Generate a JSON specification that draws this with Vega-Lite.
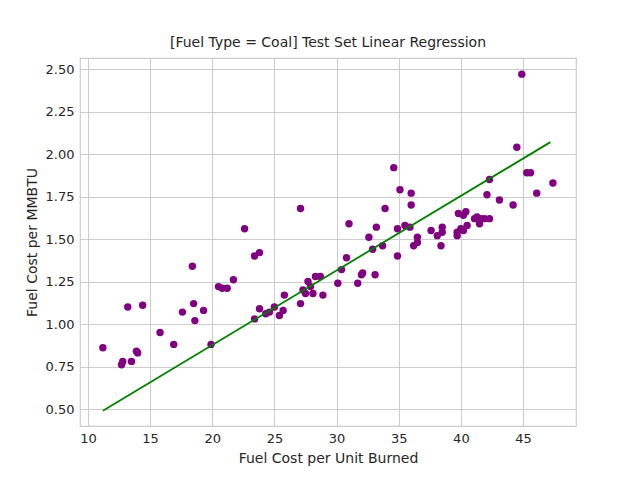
{
  "$schema": "https://vega.github.io/schema/vega-lite/v6.json",
  "width": 496,
  "height": 368,
  "autosize": {"type": "none"},
  "padding": {"left": 80, "top": 58, "right": 64, "bottom": 54},
  "config": {
    "font": "DejaVu Sans",
    "view": {"stroke": "#cccccc", "strokeWidth": 1.2},
    "axis": {
      "grid": true, "gridColor": "#cccccc", "gridWidth": 1,
      "domain": false, "ticks": false,
      "labelFontSize": 13, "labelColor": "#262626", "labelPadding": 6,
      "titleFontSize": 14, "titleFontWeight": "normal", "titleColor": "#262626", "titlePadding": 6
    },
    "title": {"fontSize": 14, "fontWeight": "normal", "color": "#262626", "offset": 8}
  },
  "title": "[Fuel Type = Coal] Test Set Linear Regression",
  "datasets": {
    "points": [
      {"x": 11.2, "y": 0.86}, {"x": 12.8, "y": 0.78}, {"x": 12.7, "y": 0.76}, {"x": 13.2, "y": 1.10},
      {"x": 13.5, "y": 0.78}, {"x": 13.9, "y": 0.84}, {"x": 14.0, "y": 0.83}, {"x": 14.4, "y": 1.11},
      {"x": 15.8, "y": 0.95}, {"x": 16.9, "y": 0.88}, {"x": 17.6, "y": 1.07}, {"x": 18.4, "y": 1.34},
      {"x": 18.5, "y": 1.12}, {"x": 18.6, "y": 1.02}, {"x": 19.3, "y": 1.08}, {"x": 19.9, "y": 0.88},
      {"x": 20.5, "y": 1.22}, {"x": 20.8, "y": 1.21}, {"x": 21.2, "y": 1.21}, {"x": 21.7, "y": 1.26},
      {"x": 22.6, "y": 1.56}, {"x": 23.4, "y": 1.03}, {"x": 23.4, "y": 1.40}, {"x": 23.8, "y": 1.42},
      {"x": 23.8, "y": 1.09}, {"x": 24.3, "y": 1.06}, {"x": 24.6, "y": 1.07}, {"x": 25.0, "y": 1.10},
      {"x": 25.4, "y": 1.05}, {"x": 25.7, "y": 1.08}, {"x": 25.8, "y": 1.17}, {"x": 27.1, "y": 1.68},
      {"x": 27.1, "y": 1.12}, {"x": 27.3, "y": 1.20}, {"x": 27.5, "y": 1.18}, {"x": 27.7, "y": 1.25},
      {"x": 27.9, "y": 1.22}, {"x": 28.3, "y": 1.28}, {"x": 28.1, "y": 1.18}, {"x": 28.7, "y": 1.28},
      {"x": 28.9, "y": 1.17}, {"x": 30.1, "y": 1.24}, {"x": 30.4, "y": 1.32}, {"x": 30.8, "y": 1.39},
      {"x": 31.0, "y": 1.59}, {"x": 31.7, "y": 1.24}, {"x": 32.0, "y": 1.29}, {"x": 32.1, "y": 1.30},
      {"x": 32.6, "y": 1.51}, {"x": 32.9, "y": 1.44}, {"x": 33.2, "y": 1.57}, {"x": 33.1, "y": 1.29},
      {"x": 33.7, "y": 1.46}, {"x": 33.9, "y": 1.68}, {"x": 34.6, "y": 1.92}, {"x": 34.9, "y": 1.56},
      {"x": 34.9, "y": 1.40}, {"x": 35.1, "y": 1.79}, {"x": 35.5, "y": 1.58}, {"x": 35.9, "y": 1.57},
      {"x": 36.0, "y": 1.77}, {"x": 36.0, "y": 1.70}, {"x": 36.2, "y": 1.46}, {"x": 36.5, "y": 1.51},
      {"x": 36.5, "y": 1.48}, {"x": 37.6, "y": 1.55}, {"x": 38.1, "y": 1.52}, {"x": 38.4, "y": 1.46},
      {"x": 38.5, "y": 1.57}, {"x": 38.5, "y": 1.54}, {"x": 39.7, "y": 1.54}, {"x": 39.7, "y": 1.52},
      {"x": 39.8, "y": 1.65}, {"x": 40.0, "y": 1.56}, {"x": 40.2, "y": 1.64}, {"x": 40.2, "y": 1.55},
      {"x": 40.4, "y": 1.66}, {"x": 40.5, "y": 1.58}, {"x": 41.1, "y": 1.62}, {"x": 41.3, "y": 1.63},
      {"x": 41.5, "y": 1.59}, {"x": 41.6, "y": 1.62}, {"x": 42.1, "y": 1.76}, {"x": 41.9, "y": 1.62},
      {"x": 42.3, "y": 1.62}, {"x": 42.3, "y": 1.85}, {"x": 43.1, "y": 1.73}, {"x": 44.2, "y": 1.70},
      {"x": 44.5, "y": 2.04}, {"x": 44.9, "y": 2.47}, {"x": 45.3, "y": 1.89}, {"x": 45.6, "y": 1.89},
      {"x": 46.1, "y": 1.77}, {"x": 47.4, "y": 1.83}
    ],
    "fit": [{"x": 11.2, "y": 0.49}, {"x": 47.2, "y": 2.07}]
  },
  "encoding": {
    "x": {"field": "x", "type": "quantitative", "title": "Fuel Cost per Unit Burned",
          "scale": {"domain": [9.36, 49.26], "nice": false, "zero": false},
          "axis": {"values": [10, 15, 20, 25, 30, 35, 40, 45]}},
    "y": {"field": "y", "type": "quantitative", "title": "Fuel Cost per MMBTU",
          "scale": {"domain": [0.4, 2.565], "nice": false, "zero": false},
          "axis": {"values": [0.5, 0.75, 1.0, 1.25, 1.5, 1.75, 2.0, 2.25, 2.5], "format": ".2f"}}
  },
  "layer": [
    {"data": {"name": "points"}, "mark": {"type": "point", "filled": true, "size": 55, "color": "#800080", "opacity": 1}},
    {"data": {"name": "fit"}, "mark": {"type": "line", "color": "#008000", "strokeWidth": 1.8}}
  ]
}
